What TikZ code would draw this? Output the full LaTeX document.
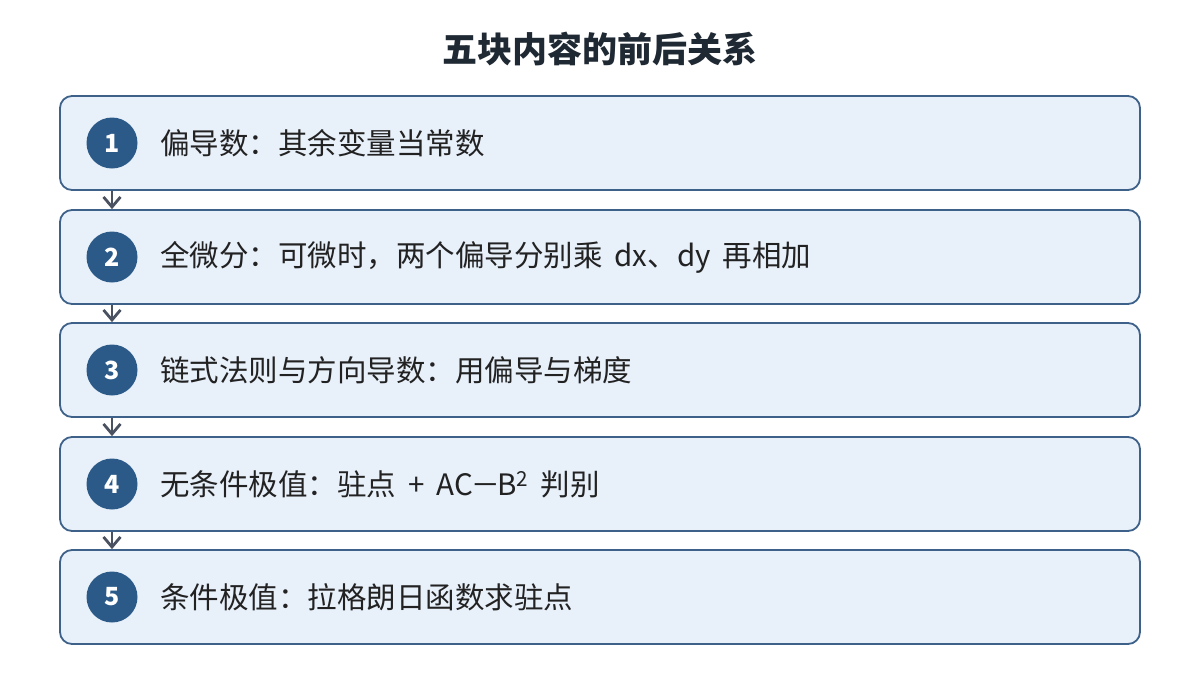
\documentclass[tikz,border=0pt]{standalone}
\usepackage{fontspec}
\setmainfont{Noto Sans CJK SC}
\usetikzlibrary{arrows.meta}
\definecolor{boxfill}{HTML}{E8F0FA}
\definecolor{boxline}{HTML}{3E6189}
\definecolor{circfill}{HTML}{2C5A88}
\definecolor{txt}{HTML}{222222}
\definecolor{ttl}{HTML}{1F2933}
\definecolor{arr}{HTML}{4A5160}
\newcommand{\wsp}{\hspace{12pt}}
\begin{document}
\begin{tikzpicture}[x=1pt,y=-1pt,
  stepbox/.style={draw=boxline, line width=1.8pt, fill=boxfill, rounded corners=12pt,
    minimum width=1080pt, minimum height=94pt, inner sep=0pt},
  numcirc/.style={circle, fill=circfill, minimum size=51pt, inner sep=0pt,
    text=white, font=\fontsize{25}{28}\selectfont\bfseries},
  lbl/.style={anchor=west, text=txt, inner sep=0pt, font=\fontsize{29.5}{34}\selectfont},
  conn/.style={draw=arr, line width=2.8pt, -{Straight Barb[length=10pt,width=17pt,line width=2.8pt]}}
]
\useasboundingbox (0,0) rectangle (1200,675);
\fill[white] (0,0) rectangle (1200,675);
\node[text=ttl, font=\fontsize{35}{40}\selectfont\bfseries] (title) at (600,49) {五块内容的前后关系};

\foreach \i/\y/\t in {1/143/{偏导数：其余变量当常数},
                       2/257/{全微分：可微时，两个偏导分别乘\wsp{}dx、dy\wsp{}再相加},
                       3/370/{链式法则与方向导数：用偏导与梯度},
                       4/484/{无条件极值：驻点\wsp{}+\wsp{}AC\scalebox{1.5}[1]{−}B\textsuperscript{2}\wsp{}判别},
                       5/597/{条件极值：拉格朗日函数求驻点}} {
  \node[stepbox] (b\i) at (600,\y) {};
  \node[numcirc] (c\i) at (112,\y) {\i};
  \node[lbl] (t\i) at (160,\y) {\t};
}
\foreach \a/\b in {1/2,2/3,3/4,4/5} {
  \draw[conn] (b\a.south -| c\a) -- (b\b.north -| c\a);
}
\end{tikzpicture}
\end{document}
